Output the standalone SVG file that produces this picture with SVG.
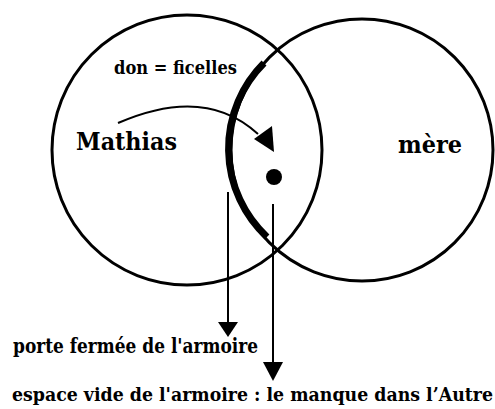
<svg xmlns="http://www.w3.org/2000/svg" width="495" height="409" viewBox="0 0 495 409">
<style>
.c{fill:none;stroke:#000;stroke-width:3}
.ln{fill:none;stroke:#000;stroke-width:2}
text{font-family:'DejaVu Serif',serif;font-weight:bold;fill:#000}
</style>
<rect width="495" height="409" fill="#fff"/>
<g id="mathias">
<circle class="c" cx="187" cy="150" r="135"/>
<text x="76" y="150" font-size="25" textLength="101" lengthAdjust="spacingAndGlyphs">Mathias</text>
</g>
<g id="mere">
<circle class="c" cx="362" cy="150" r="131"/>
<text x="398" y="153" font-size="25" textLength="64" lengthAdjust="spacingAndGlyphs">mère</text>
</g>
<g id="ficelles">
<path d="M264 63 A121 121 0 0 0 267 237" fill="none" stroke="#000" stroke-width="7"/>
<text x="114" y="74" font-size="19" textLength="123" lengthAdjust="spacingAndGlyphs">don = ficelles</text>
</g>
<g id="dot">
<circle cx="274" cy="177" r="8" fill="#000"/>
</g>
<g id="connectors">
<path class="ln" d="M118 123 Q205 85 258 134"/>
<polygon points="274,152 254,139 272,126" fill="#000"/>
<line class="ln" x1="228" y1="192" x2="228" y2="324"/>
<polygon points="218,322 238,322 228,337" fill="#000"/>
<line class="ln" x1="273" y1="204" x2="273" y2="364"/>
<polygon points="263,362 283,362 273,381" fill="#000"/>
</g>
<g id="labels">
<text x="13" y="353" font-size="20" textLength="245" lengthAdjust="spacingAndGlyphs">porte fermée de l'armoire</text>
<text x="12" y="401" font-size="19" textLength="481" lengthAdjust="spacingAndGlyphs">espace vide de l'armoire : le manque dans l’Autre</text>
</g>
</svg>
